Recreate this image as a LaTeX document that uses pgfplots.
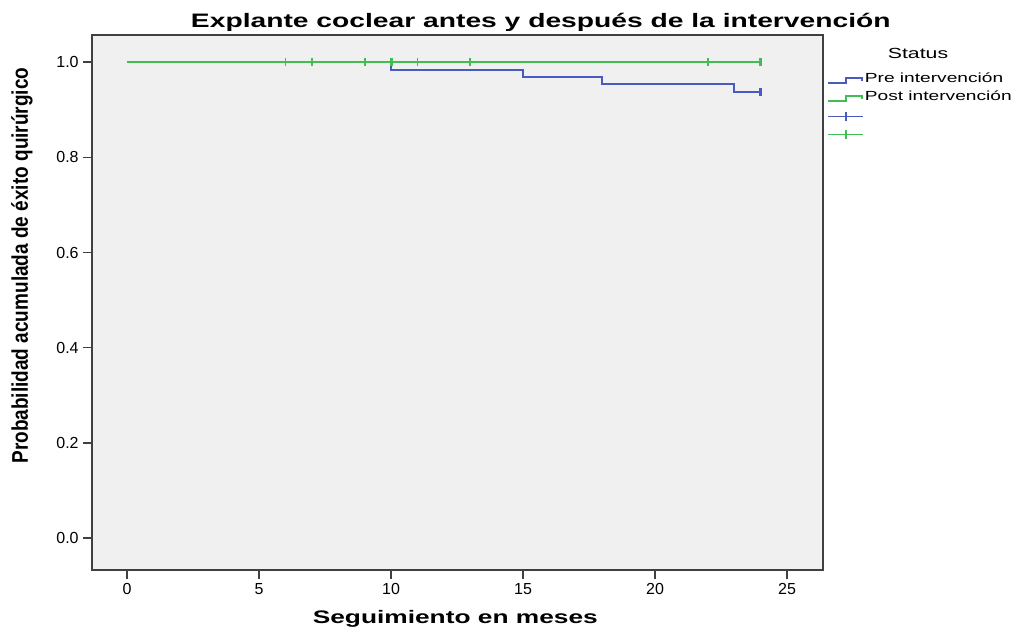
\documentclass[border=0pt]{standalone}
\usepackage{pgfplots}
\pgfplotsset{compat=1.18}
\usepackage{fontspec}
\setmainfont{Liberation Sans}
\definecolor{kmblue}{RGB}{72,92,192}
\definecolor{kmgreen}{RGB}{64,190,84}
\definecolor{bg}{RGB}{240,240,240}
\definecolor{axc}{RGB}{64,64,64}
\begin{document}
\begin{tikzpicture}
\useasboundingbox (0,0) rectangle (763.5pt,471pt);
\begin{axis}[
  at={(69pt,43.5pt)}, anchor=south west,
  scale only axis, width=548.25pt, height=401.25pt,
  xmin=-1.33, xmax=26.36, ymin=-0.067, ymax=1.057,
  clip=false,
  axis background/.style={fill=bg},
  axis line style={draw=axc, line width=1.1pt},
  tick style={draw=axc, line width=1pt},
  tick align=outside,
  xtick pos=left, ytick pos=left,
  major tick length=6.5pt,
  xtick={0,5,10,15,20,25},
  ytick={0,0.2,0.4,0.6,0.8,1.0},
  /pgf/number format/assume math mode=true,
  yticklabel style={/pgf/number format/.cd, fixed, fixed zerofill, precision=1},
  ticklabel style={font=\fontsize{12pt}{14pt}\selectfont, text=black},
  title={\scalebox{1.45}[1]{\bfseries Explante coclear antes y después de la intervención}},
  title style={at={(axis description cs:0.614,1.008)}, anchor=center, font=\fontsize{14.6pt}{16pt}\selectfont},
  xlabel={\scalebox{1.45}[1]{\bfseries Seguimiento en meses}},
  xlabel style={at={(axis description cs:0.497,-0.091)}, anchor=center, font=\fontsize{13.6pt}{15pt}\selectfont},
  ylabel={\scalebox{0.838}[1]{\bfseries Probabilidad acumulada de éxito quirúrgico}},
  ylabel style={at={(axis description cs:-0.0958,0.569)}, anchor=center, font=\fontsize{17pt}{18pt}\selectfont},
  legend style={at={(axis description cs:1.0055,0.9320)}, anchor=north west, draw=none, fill=none,
    inner sep=0pt, font=\fontsize{9.9pt}{11pt}\selectfont, row sep=0pt,
    nodes={inner sep=1pt, text height=7.5pt, text depth=4pt}},
  legend cell align=left,
]
\addplot[kmblue, line width=1.5pt, const plot, no marks,
  legend image code/.code={\draw[kmblue, line width=1.2pt] (0pt,-1.8pt) -- (13.5pt,-1.8pt) -- (13.5pt,1.8pt) -- (25.5pt,1.8pt) -- (25.5pt,0pt);}]
  coordinates {(0,1) (10,0.9844) (15,0.9688) (18,0.9531) (23,0.9375) (24,0.9375)};
\addlegendentry{\scalebox{1.45}[1]{Pre intervención}}
\addplot[kmgreen, line width=1.5pt, const plot, no marks,
  legend image code/.code={\draw[kmgreen, line width=1.2pt] (0pt,-1.8pt) -- (13.5pt,-1.8pt) -- (13.5pt,1.8pt) -- (25.5pt,1.8pt) -- (25.5pt,0pt);}]
  coordinates {(0,1) (24,1)};
\addlegendentry{\scalebox{1.45}[1]{Post intervención}}
\addplot[kmblue, only marks, mark=|, mark size=3.2pt, mark options={line width=2.2pt},
  legend image code/.code={\draw[kmblue, line width=1.2pt] (0pt,0pt) -- (26pt,0pt); \draw[kmblue, line width=1.2pt] (13.5pt,-3.5pt) -- (13.5pt,3.5pt);}]
  coordinates {(24,0.9375)};
\addlegendentry{}
\addplot[kmgreen, only marks, mark=|, mark size=3.2pt, mark options={line width=1.3pt},
  legend image code/.code={\draw[kmgreen, line width=1.2pt] (0pt,0pt) -- (26pt,0pt); \draw[kmgreen, line width=1.2pt] (13.5pt,-3.5pt) -- (13.5pt,3.5pt);}]
  coordinates {(6,1) (7,1) (9,1) (10,1) (11,1) (13,1) (22,1) (24,1)};
\addlegendentry{}
\addplot[kmgreen, only marks, mark=|, mark size=3.2pt, mark options={line width=2.2pt}, forget plot]
  coordinates {(10,1) (24,1)};
\node[anchor=center, font=\fontsize{11pt}{12pt}\selectfont] at (axis description cs:1.13,0.966) {\scalebox{1.45}[1]{Status}};
\end{axis}
\end{tikzpicture}
\end{document}
